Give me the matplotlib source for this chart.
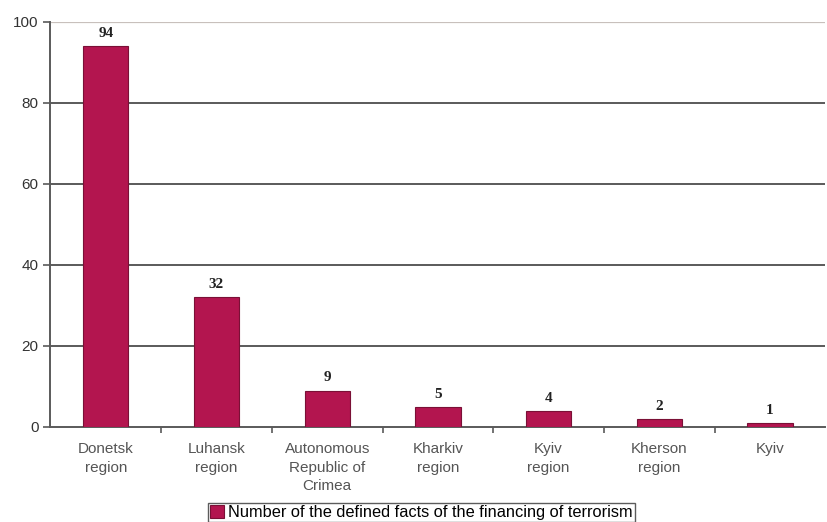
import numpy as np
import matplotlib.pyplot as plt

regions = ["Donetsk\nregion", "Luhansk\nregion", "Autonomous\nRepublic of\nCrimea",
           "Kharkiv\nregion", "Kyiv\nregion", "Kherson\nregion", "Kyiv"]
facts = [94, 32, 9, 5, 4, 2, 1]
y_ticks = [0, 20, 40, 60, 80, 100]
series_name = "Number of the defined facts of the financing of terrorism"

bar_color = "#B3154F"
grid_color = "#5a5a5a"

fig = plt.figure(figsize=(8.27, 5.22), dpi=100)
ax = fig.add_axes([0.061, 0.182, 0.937, 0.776])

x = np.arange(len(regions))
bars = ax.bar(x, facts, width=0.41, color=bar_color, edgecolor="#7a1036",
              linewidth=0.8, zorder=3, label=series_name)

# value labels above bars
for xi, v in zip(x, facts):
    ax.text(xi, v + 1.5, str(v), ha="center", va="bottom", fontsize=11,
            fontweight="bold", family="Liberation Serif", color="#222222")

ax.set_xlim(-0.5, len(regions) - 0.5)
ax.set_ylim(0, 100)
ax.set_yticks(y_ticks)
ax.set_yticklabels([str(t) for t in y_ticks], family="Liberation Sans",
                   fontsize=11, color="#333333")

for t in y_ticks[1:-1]:
    ax.axhline(t, color=grid_color, linewidth=1.4, zorder=1)
ax.axhline(100, color="#c8c0bc", linewidth=1.6, zorder=1)

ax.set_xticks(x)
ax.set_xticklabels(regions, family="Liberation Sans", fontsize=11, color="#555555",
                   linespacing=1.4)
ax.tick_params(axis="x", which="major", length=0, pad=11)
ax.set_xticks(np.arange(0.5, len(regions) - 0.5, 1), minor=True)
ax.tick_params(axis="x", which="minor", length=4, color=grid_color, width=1.2)
ax.tick_params(axis="y", length=5, color=grid_color, width=1.2)

for side in ["top", "right"]:
    ax.spines[side].set_visible(False)
ax.spines["left"].set_color(grid_color)
ax.spines["left"].set_linewidth(1.4)
ax.spines["bottom"].set_color(grid_color)
ax.spines["bottom"].set_linewidth(1.4)

leg = fig.legend(handles=[bars], loc="lower center", bbox_to_anchor=(0.51, -0.016),
                 frameon=True, fancybox=False, edgecolor="#333333",
                 prop={"family": "Liberation Sans", "size": 11.8},
                 handlelength=0.8, handleheight=0.8, handletextpad=0.3,
                 borderpad=0.12)
leg.get_frame().set_linewidth(1.0)

fig.savefig("out.png", dpi=100)
